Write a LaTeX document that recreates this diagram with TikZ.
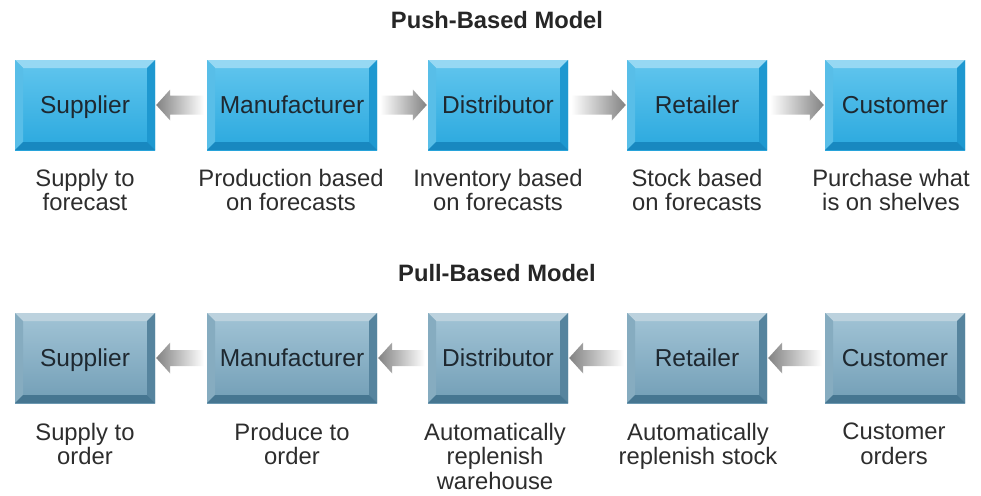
\documentclass[tikz,border=0pt]{standalone}
\usepackage{fontspec}
\setmainfont{Liberation Sans}
\usetikzlibrary{calc}
\definecolor{pushHi}{RGB}{98,198,238}
\definecolor{pushLo}{RGB}{42,168,222}
\definecolor{pushTop}{RGB}{150,216,243}
\definecolor{pushLeft}{RGB}{88,190,232}
\definecolor{pushRight}{RGB}{30,152,208}
\definecolor{pushBottom}{RGB}{24,136,192}
\definecolor{pullHi}{RGB}{162,196,214}
\definecolor{pullLo}{RGB}{114,158,182}
\definecolor{pullTop}{RGB}{188,210,222}
\definecolor{pullLeft}{RGB}{134,172,192}
\definecolor{pullRight}{RGB}{86,132,158}
\definecolor{pullBottom}{RGB}{70,118,145}
\definecolor{arrowGray}{RGB}{130,130,130}
\definecolor{boxText}{RGB}{30,40,48}
\definecolor{noteText}{RGB}{45,45,45}

\begin{document}
\begin{tikzpicture}[x=1pt, y=-1pt,
          bevelbox/.style n args={4}{inner sep=0pt, minimum height=90pt,
            font=\fontsize{24.5}{26}\selectfont, text=boxText,
            text height=17.5pt, text depth=0pt,
            path picture={
              \coordinate (bnw) at (path picture bounding box.north west);
              \coordinate (bne) at (path picture bounding box.north east);
              \coordinate (bsw) at (path picture bounding box.south west);
              \coordinate (bse) at (path picture bounding box.south east);
              \fill[#1] (bnw) -- (bne) -- ([shift={(-8pt,-8pt)}]bne) -- ([shift={(8pt,-8pt)}]bnw) -- cycle;
              \fill[#2] (bnw) -- (bsw) -- ([shift={(8pt,8pt)}]bsw) -- ([shift={(8pt,-8pt)}]bnw) -- cycle;
              \fill[#3] (bne) -- (bse) -- ([shift={(-8pt,8pt)}]bse) -- ([shift={(-8pt,-8pt)}]bne) -- cycle;
              \fill[#4] (bsw) -- (bse) -- ([shift={(-8pt,8pt)}]bse) -- ([shift={(8pt,8pt)}]bsw) -- cycle;
            }},
          pushbox/.style={bevelbox={pushTop}{pushLeft}{pushRight}{pushBottom},
            top color=pushHi, bottom color=pushLo},
          pullbox/.style={bevelbox={pullTop}{pullLeft}{pullRight}{pullBottom},
            top color=pullHi, bottom color=pullLo},
          title/.style={anchor=north, inner sep=0pt, font=\fontsize{23.7}{25}\selectfont\bfseries, text=black!85},
          note/.style={anchor=north, align=center, inner sep=0pt,
            font=\fontsize{23.8}{24.5}\selectfont, text=noteText}
        ]
          \fill[white] (0,0) rectangle (981,495);
          \useasboundingbox (0,0) rectangle (981,495);

          % push row
          \node[title] (pusht) at (497,11) {Push-Based Model};
          \node[pushbox, minimum width=140pt] (s1) at (85,105) {Supplier};
          \node[pushbox, minimum width=170pt] (m1) at (292,105) {Manufacturer};
          \node[pushbox, minimum width=140pt] (d1) at (498,105) {Distributor};
          \node[pushbox, minimum width=140pt] (r1) at (697,105) {Retailer};
          \node[pushbox, minimum width=140pt] (c1) at (895,105) {Customer};
          \node[note] (s1n) at (85,169) {Supply to\\forecast};
          \node[note] (m1n) at (291,169) {Production based\\on forecasts};
          \node[note] (d1n) at (498,169) {Inventory based\\on forecasts};
          \node[note] (r1n) at (697,169) {Stock based\\on forecasts};
          \node[note] (c1n) at (891,169) {Purchase what\\is on shelves};

          % pull row
          \node[title] (pullt) at (497,264) {Pull-Based Model};
          \node[pullbox, minimum width=140pt] (s2) at (85,358) {Supplier};
          \node[pullbox, minimum width=170pt] (m2) at (292,358) {Manufacturer};
          \node[pullbox, minimum width=140pt] (d2) at (498,358) {Distributor};
          \node[pullbox, minimum width=140pt] (r2) at (697,358) {Retailer};
          \node[pullbox, minimum width=140pt] (c2) at (895,358) {Customer};
          \node[note] (s2n) at (85,423) {Supply to\\order};
          \node[note] (m2n) at (292,423) {Produce to\\order};
          \node[note] (d2n) at (495,423) {Automatically\\replenish\\warehouse};
          \node[note] (r2n) at (698,423) {Automatically\\replenish stock};
          \node[note] (c2n) at (894,423) {Customer\\orders};

          % arrows pointing left (tip at \b)
          \foreach \a/\b/\w in {m1/s1/9.5, m2/s2/8, d2/m2/8, r2/d2/8, c2/r2/8}
            \shade[left color=arrowGray, right color=white]
              ($(\b.east)+(1,0)$) -- ++(14,-15.5) -- ++(0,15.5-\w) -- ($(\a.west)+(-3,-\w)$)
              -- ++(0,2*\w) -- ($(\b.east)+(15,\w)$) -- ++(0,15.5-\w) -- cycle;
          % arrows pointing right (tip at \b)
          \foreach \a/\b in {m1/d1, d1/r1, r1/c1}
            \shade[left color=white, right color=arrowGray]
              ($(\b.west)+(-1,0)$) -- ++(-14,-15.5) -- ++(0,6) -- ($(\a.east)+(3,-9.5)$)
              -- ++(0,19) -- ($(\b.west)+(-15,9.5)$) -- ++(0,6) -- cycle;
        \end{tikzpicture}
\end{document}
